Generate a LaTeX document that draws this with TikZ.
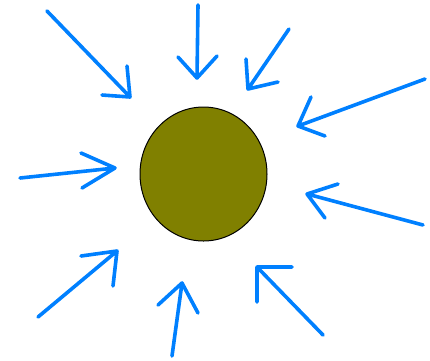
\documentclass[tikz,border=0pt]{standalone}
\definecolor{arrowblue}{RGB}{0,128,255}
\definecolor{olive}{RGB}{128,128,0}
\tikzset{
  handarrow/.style={draw=arrowblue, line width=3.6pt, line cap=round, line join=round},
}
\begin{document}
\begin{tikzpicture}[x=1pt,y=-1pt]
\useasboundingbox (0,0) rectangle (430,360);
% sphere
\draw[fill=olive, draw=black, line width=1pt] (203.5,174) ellipse [x radius=63.5, y radius=67];
% arrows: shaft and two barbs each
\draw[handarrow] (47,11) -- (130,97) (127,66) -- (130,97) -- (102,95);
\draw[handarrow] (198,5) -- (197,78) (178,57) -- (197,78) -- (217,56);
\draw[handarrow] (289,29) -- (248,89) (246,59) -- (248,89) -- (278,82);
\draw[handarrow] (425,79) -- (298,126) (311,97) -- (298,126) -- (325,136);
\draw[handarrow] (20,178) -- (115,168) (81,153) -- (115,168) -- (82,188);
\draw[handarrow] (423,225) -- (307,194) (338,184) -- (307,194) -- (325,218);
\draw[handarrow] (38,317) -- (117,251) (81,256) -- (117,251) -- (113,286);
\draw[handarrow] (172,356) -- (182,283) (158,305) -- (182,283) -- (198,313);
\draw[handarrow] (323,335) -- (257,267) (292,267) -- (257,267) -- (257,302);
\end{tikzpicture}
\end{document}
